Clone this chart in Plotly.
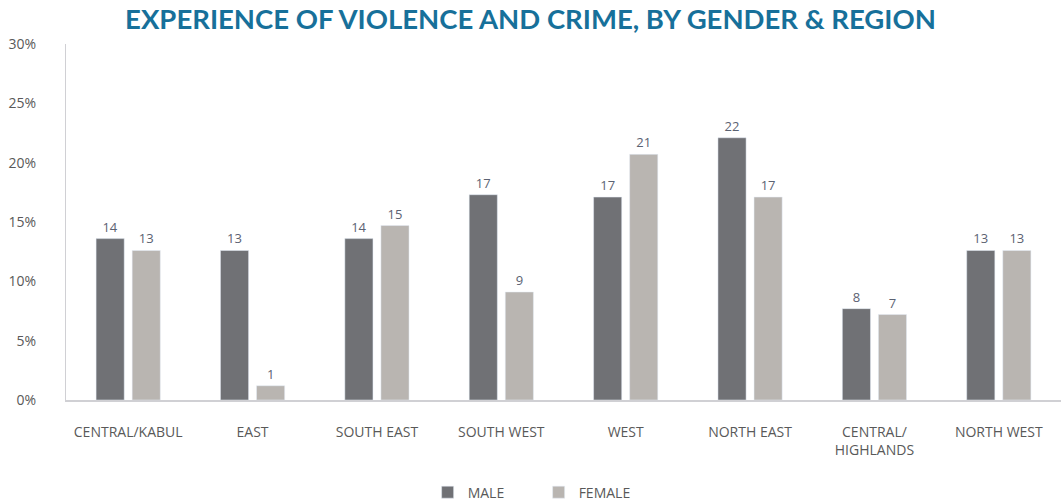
import plotly.graph_objects as go

regions = ["CENTRAL/KABUL", "EAST", "SOUTH EAST", "SOUTH WEST", "WEST",
           "NORTH EAST", "CENTRAL/<br>HIGHLANDS", "NORTH WEST"]
male = [13.6, 12.6, 13.6, 17.3, 17.1, 22.1, 7.7, 12.6]
female = [12.6, 1.2, 14.7, 9.1, 20.7, 17.1, 7.2, 12.6]
y_ticks = [0, 5, 10, 15, 20, 25, 30]
y_tick_labels = ["0%", "5%", "10%", "15%", "20%", "25%", "30%"]

label_font = dict(family="Open Sans, sans-serif", size=14, color="#595959")
value_font = dict(family="Open Sans, sans-serif", size=13, color="#5b6272")

fig = go.Figure()
fig.add_trace(go.Bar(name="MALE", x=regions, y=male, marker_color="#707175",
                     texttemplate="%{y:.0f}", textposition="outside",
                     textfont=value_font, cliponaxis=False))
fig.add_trace(go.Bar(name="FEMALE", x=regions, y=female, marker_color="#b9b5b1",
                     texttemplate="%{y:.0f}", textposition="outside",
                     textfont=value_font, cliponaxis=False))

fig.update_layout(
    width=1061, height=504,
    margin=dict(l=66, r=0, t=44, b=104, autoexpand=False),
    plot_bgcolor="white", paper_bgcolor="white",
    barmode="group", bargap=0.42, bargroupgap=0.22,
    title=dict(text="<b>EXPERIENCE OF VIOLENCE AND CRIME, BY GENDER &amp; REGION</b>",
               x=0.5, xanchor="center", y=0.962, yanchor="middle",
               font=dict(family="Lato, Open Sans, sans-serif", size=27.5, color="#17709a")),
    legend=dict(orientation="h", x=0.475, xanchor="center", y=-0.26, yanchor="middle",
                font=label_font, entrywidth=66, traceorder="normal"),
    xaxis=dict(showline=True, linecolor="#d0d0d4", linewidth=1.5, ticks="",
               tickfont=label_font, ticklabelstandoff=18, showgrid=False),
    yaxis=dict(range=[0, 30], tickvals=y_ticks, ticktext=y_tick_labels, showgrid=False,
               showline=True, linecolor="#d0d0d4", linewidth=1, zeroline=False,
               tickfont=label_font, ticklabelstandoff=26),
)

fig.write_html("out.html")
